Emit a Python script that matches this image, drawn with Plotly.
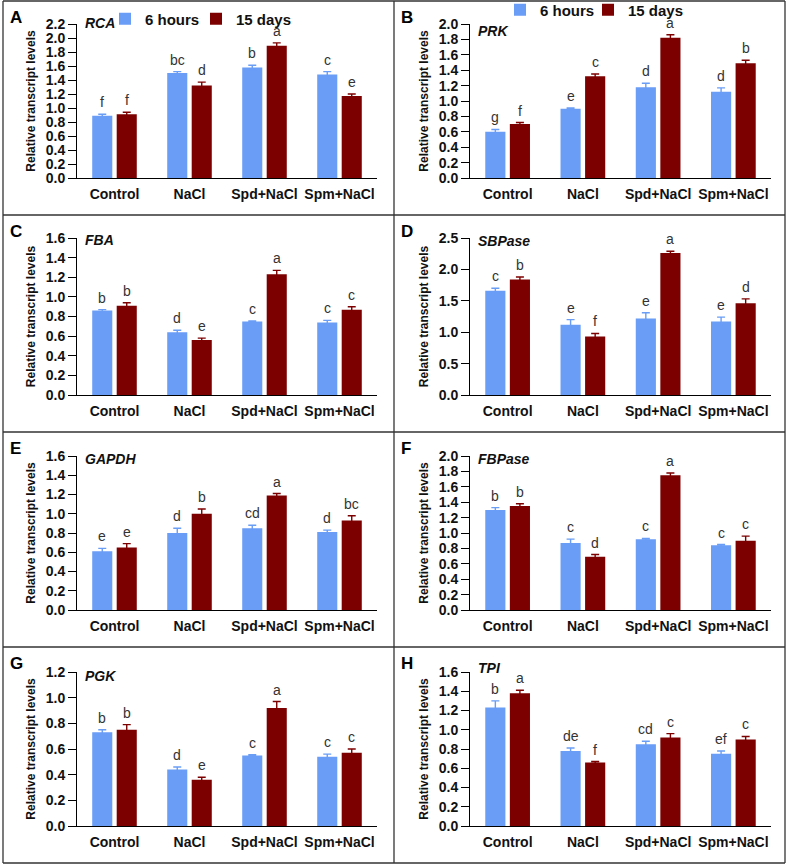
import plotly.graph_objects as go

# ---------------- data ----------------
categories = ["Control", "NaCl", "Spd+NaCl", "Spm+NaCl"]
series_names = ["6 hours", "15 days"]

rca_6h = [0.89, 1.50, 1.58, 1.48]
rca_6h_err = [0.02, 0.02, 0.03, 0.04]
rca_15d = [0.91, 1.32, 1.89, 1.17]
rca_15d_err = [0.03, 0.05, 0.04, 0.03]
rca_6h_sig = ["f", "bc", "b", "c"]
rca_15d_sig = ["f", "d", "a", "e"]

prk_6h = [0.60, 0.90, 1.18, 1.12]
prk_6h_err = [0.03, 0.01, 0.05, 0.05]
prk_15d = [0.70, 1.32, 1.82, 1.49]
prk_15d_err = [0.02, 0.03, 0.04, 0.04]
prk_6h_sig = ["g", "e", "d", "d"]
prk_15d_sig = ["f", "c", "a", "b"]

fba_6h = [0.86, 0.64, 0.75, 0.74]
fba_6h_err = [0.01, 0.02, 0.005, 0.02]
fba_15d = [0.91, 0.56, 1.23, 0.87]
fba_15d_err = [0.03, 0.02, 0.04, 0.03]
fba_6h_sig = ["b", "d", "c", "c"]
fba_15d_sig = ["b", "e", "a", "c"]

sbp_6h = [1.66, 1.12, 1.22, 1.17]
sbp_6h_err = [0.04, 0.08, 0.09, 0.07]
sbp_15d = [1.84, 0.93, 2.26, 1.46]
sbp_15d_err = [0.04, 0.05, 0.03, 0.07]
sbp_6h_sig = ["c", "e", "e", "e"]
sbp_15d_sig = ["b", "f", "a", "d"]

gap_6h = [0.61, 0.80, 0.85, 0.81]
gap_6h_err = [0.03, 0.05, 0.03, 0.02]
gap_15d = [0.65, 1.00, 1.19, 0.93]
gap_15d_err = [0.04, 0.05, 0.02, 0.05]
gap_6h_sig = ["e", "d", "cd", "d"]
gap_15d_sig = ["e", "b", "a", "bc"]

fbp_6h = [1.30, 0.87, 0.92, 0.84]
fbp_6h_err = [0.03, 0.05, 0.01, 0.01]
fbp_15d = [1.35, 0.69, 1.75, 0.90]
fbp_15d_err = [0.03, 0.03, 0.03, 0.06]
fbp_6h_sig = ["b", "c", "c", "c"]
fbp_15d_sig = ["b", "d", "a", "c"]

pgk_6h = [0.73, 0.44, 0.55, 0.54]
pgk_6h_err = [0.02, 0.02, 0.005, 0.02]
pgk_15d = [0.75, 0.36, 0.92, 0.57]
pgk_15d_err = [0.04, 0.02, 0.05, 0.03]
pgk_6h_sig = ["b", "d", "c", "c"]
pgk_15d_sig = ["b", "e", "a", "c"]

tpi_6h = [1.23, 0.78, 0.85, 0.75]
tpi_6h_err = [0.07, 0.03, 0.03, 0.03]
tpi_15d = [1.38, 0.66, 0.92, 0.90]
tpi_15d_err = [0.03, 0.01, 0.04, 0.03]
tpi_6h_sig = ["b", "de", "cd", "ef"]
tpi_15d_sig = ["a", "f", "c", "c"]

panel_letters = ["A", "B", "C", "D", "E", "F", "G", "H"]
gene_names = ["RCA", "PRK", "FBA", "SBPase", "GAPDH", "FBPase", "PGK", "TPI"]
y_max = [2.2, 2.0, 1.6, 2.5, 1.6, 2.0, 1.2, 1.6]
y_step = [0.2, 0.2, 0.2, 0.5, 0.2, 0.2, 0.2, 0.2]

panels = [
    (rca_6h, rca_6h_err, rca_6h_sig, rca_15d, rca_15d_err, rca_15d_sig),
    (prk_6h, prk_6h_err, prk_6h_sig, prk_15d, prk_15d_err, prk_15d_sig),
    (fba_6h, fba_6h_err, fba_6h_sig, fba_15d, fba_15d_err, fba_15d_sig),
    (sbp_6h, sbp_6h_err, sbp_6h_sig, sbp_15d, sbp_15d_err, sbp_15d_sig),
    (gap_6h, gap_6h_err, gap_6h_sig, gap_15d, gap_15d_err, gap_15d_sig),
    (fbp_6h, fbp_6h_err, fbp_6h_sig, fbp_15d, fbp_15d_err, fbp_15d_sig),
    (pgk_6h, pgk_6h_err, pgk_6h_sig, pgk_15d, pgk_15d_err, pgk_15d_sig),
    (tpi_6h, tpi_6h_err, tpi_6h_sig, tpi_15d, tpi_15d_err, tpi_15d_sig),
]

# ---------------- styling / layout ----------------
W, H = 787, 864
BLUE = "#6A9DF6"
RED = "#7D0000"
FONT = "Arial, Liberation Sans, sans-serif"

col_x = [(77, 377), (470, 771)]           # plot area x in px
row_y = [(24, 178), (238, 395), (456, 610), (672, 826)]  # plot area y (top,bottom) px
panel_tl = [(3, 1), (394, 1), (3, 215), (394, 215), (3, 432), (394, 432), (3, 647), (394, 647)]
gene_yshift = [1, -7, -2, -3, -3, -3, -4, 4]
# legend ids per panel (6 hours, 15 days); only panels A and B carry legends
legend_ids = {0: ("legend", "legend3"), 1: ("legend2", "legend4")}

fig = go.Figure()
annotations = []

for i, (v6, e6, s6, v15, e15, s15) in enumerate(panels):
    n = i + 1
    xa = "x" if n == 1 else f"x{n}"
    ya = "y" if n == 1 else f"y{n}"
    col, row = i % 2, i // 2
    legs = legend_ids.get(i)
    for k, (vals, errs, sigs, name, color, shift) in enumerate([
        (v6, e6, s6, series_names[0], BLUE, -12.3),
        (v15, e15, s15, series_names[1], RED, 12.3),
    ]):
        tr = dict(
            x=categories, y=vals, name=name, marker_color=color,
            marker_line_width=0,
            error_y=dict(type="data", array=errs, visible=True, color=color,
                         thickness=1.4, width=4),
            xaxis=xa, yaxis=ya, showlegend=legs is not None,
        )
        if legs is not None:
            tr["legend"] = legs[k]
        fig.add_trace(go.Bar(**tr))
        for c, v, e, s in zip(categories, vals, errs, sigs):
            annotations.append(dict(
                x=c, y=v + e, xref=xa, yref=ya, text=s, showarrow=False,
                xshift=shift, yshift=2, yanchor="bottom", xanchor="center",
                font=dict(family=FONT, size=14, color="#333333"),
            ))
    # gene name
    annotations.append(dict(
        x=0.02, y=1.0, xref=f"{xa} domain", yref=f"{ya} domain",
        text=f"<b><i>{gene_names[i]}</i></b>", showarrow=False,
        xanchor="left", yanchor="middle", yshift=gene_yshift[i],
        font=dict(family=FONT, size=14, color="#111111"),
    ))
    # panel letter
    px, py = panel_tl[i]
    annotations.append(dict(
        x=(px + 5) / W, y=1 - (py + 16) / H, xref="paper", yref="paper",
        text=f"<b>{panel_letters[i]}</b>", showarrow=False,
        xanchor="left", yanchor="middle",
        font=dict(family=FONT, size=17, color="#000000"),
    ))

    x0, x1 = col_x[col]
    yt, yb = row_y[row]
    ticks = []
    t = 0.0
    while t <= y_max[i] + 1e-9:
        ticks.append(round(t, 2))
        t += y_step[i]
    fig.update_layout(**{
        ("xaxis" if n == 1 else f"xaxis{n}"): dict(
            domain=[x0 / W, x1 / W], anchor=ya, type="category",
            showline=True, linecolor="#000000", linewidth=1,
            ticks="outside", ticklen=3, tickcolor="rgba(0,0,0,0)",
            tickfont=dict(family=FONT, size=14, color="#111111", weight="bold"),
            showgrid=False, zeroline=False,
        ),
        ("yaxis" if n == 1 else f"yaxis{n}"): dict(
            domain=[1 - yb / H, 1 - yt / H], anchor=xa,
            range=[0, y_max[i]], tickvals=ticks, tickformat=".1f",
            showline=True, linecolor="#000000", linewidth=1,
            ticks="outside", ticklen=8, tickcolor="#000000",
            tickfont=dict(family=FONT, size=14, color="#111111", weight="bold"),
            showgrid=False, zeroline=False,
            title=dict(text="Relative transcript levels", standoff=7,
                       font=dict(family=FONT, size=12, color="#111111", weight="bold")),
        ),
    })

# panel borders
shapes = []
line_style = dict(color="#333333", width=1.3)
for xv in [3, 394, 785]:
    shapes.append(dict(type="line", xref="paper", yref="paper",
                       x0=xv / W, x1=xv / W, y0=1 - 1 / H, y1=1 - 863 / H, line=line_style))
for yv in [1, 215, 432, 647, 863]:
    shapes.append(dict(type="line", xref="paper", yref="paper",
                       x0=3 / W, x1=785 / W, y0=1 - yv / H, y1=1 - yv / H, line=line_style))

legend_common = dict(
    orientation="h", bgcolor="rgba(0,0,0,0)", borderwidth=0,
    font=dict(family=FONT, size=15, color="#111111", weight="bold"),
    itemwidth=30, xanchor="left", yanchor="middle", itemclick=False,
)
fig.update_layout(
    width=W, height=H, margin=dict(l=0, r=0, t=0, b=0, autoexpand=False),
    paper_bgcolor="white", plot_bgcolor="white",
    barmode="group", bargap=0.347, bargroupgap=0.18,
    showlegend=True, hovermode=False,
    legend=dict(x=105 / W, y=1 - 19 / H, **legend_common),
    legend3=dict(x=196 / W, y=1 - 19 / H, **legend_common),
    legend2=dict(x=500 / W, y=1 - 10 / H, **legend_common),
    legend4=dict(x=588 / W, y=1 - 10 / H, **legend_common),
    annotations=annotations, shapes=shapes,
    font=dict(family=FONT),
)

fig.write_html("out.html", config={"displayModeBar": False},
               post_script="document.body.style.margin='0px';")
